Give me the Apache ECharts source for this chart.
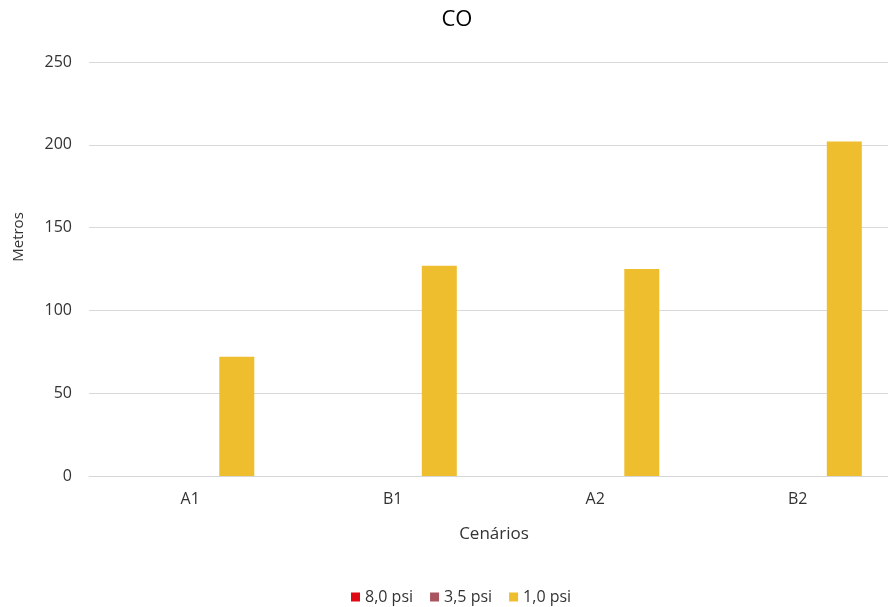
<!DOCTYPE html>
<html>
<head>
<meta charset="utf-8">
<script src="https://cdn.jsdelivr.net/npm/echarts@6/dist/echarts.min.js"></script>
<style>html,body{margin:0;padding:0;background:#fff;}#c{width:888px;height:607px;}</style>
</head>
<body>
<div id="c"></div>
<script>
const categories = ['A1', 'B1', 'A2', 'B2'];
const seriesNames = ['8,0 psi', '3,5 psi', '1,0 psi'];
const psi80 = [0, 0, 0, 0];
const psi35 = [0, 0, 0, 0];
const psi10 = [72, 127, 125, 202];
const yTicks = { min: 0, max: 250, interval: 50 };
const colors = ['#df0a14', '#a9555f', '#eebe2f'];

const font = '"Open Sans", "Noto Sans", sans-serif';
const chart = echarts.init(document.getElementById('c'), null, { renderer: 'canvas' });
const values = [psi80, psi35, psi10];
chart.setOption({
  animation: false,
  color: colors,
  title: {
    text: 'CO', left: 452, top: 4, textAlign: 'center',
    textStyle: { fontFamily: font, fontSize: 22, fontWeight: 'normal', color: '#000' }
  },
  legend: {
    data: seriesNames, top: 584, left: 346,
    itemWidth: 9, itemHeight: 9, itemGap: 17, icon: 'rect',
    textStyle: { fontFamily: font, fontSize: 16, color: '#333' }
  },
  grid: { left: 89, right: -11, top: 62, bottom: 131, containLabel: false, outerBoundsMode: 'none' },
  xAxis: {
    type: 'category', data: categories,
    name: 'Cenários', nameLocation: 'middle', nameGap: 50,
    nameTextStyle: { fontFamily: font, fontSize: 17, color: '#333' },
    axisLine: { lineStyle: { color: '#d6d6d6' } },
    axisTick: { show: false },
    axisLabel: { fontFamily: font, fontSize: 16, color: '#333', margin: 15 }
  },
  yAxis: {
    type: 'value', min: yTicks.min, max: yTicks.max, interval: yTicks.interval,
    name: 'Metros', nameLocation: 'middle', nameGap: 63,
    nameTextStyle: { fontFamily: font, fontSize: 15, color: '#333', padding: [0, 0, 0, 64] },
    axisLine: { show: false }, axisTick: { show: false },
    axisLabel: { fontFamily: font, fontSize: 16, color: '#333', margin: 17 },
    splitLine: { lineStyle: { color: '#d9d9d9' } }
  },
  series: seriesNames.map((n, i) => ({
    name: n, type: 'bar', data: values[i],
    barWidth: 35, barGap: '33%',
    itemStyle: { color: colors[i] }
  }))
});
</script>
</body>
</html>
